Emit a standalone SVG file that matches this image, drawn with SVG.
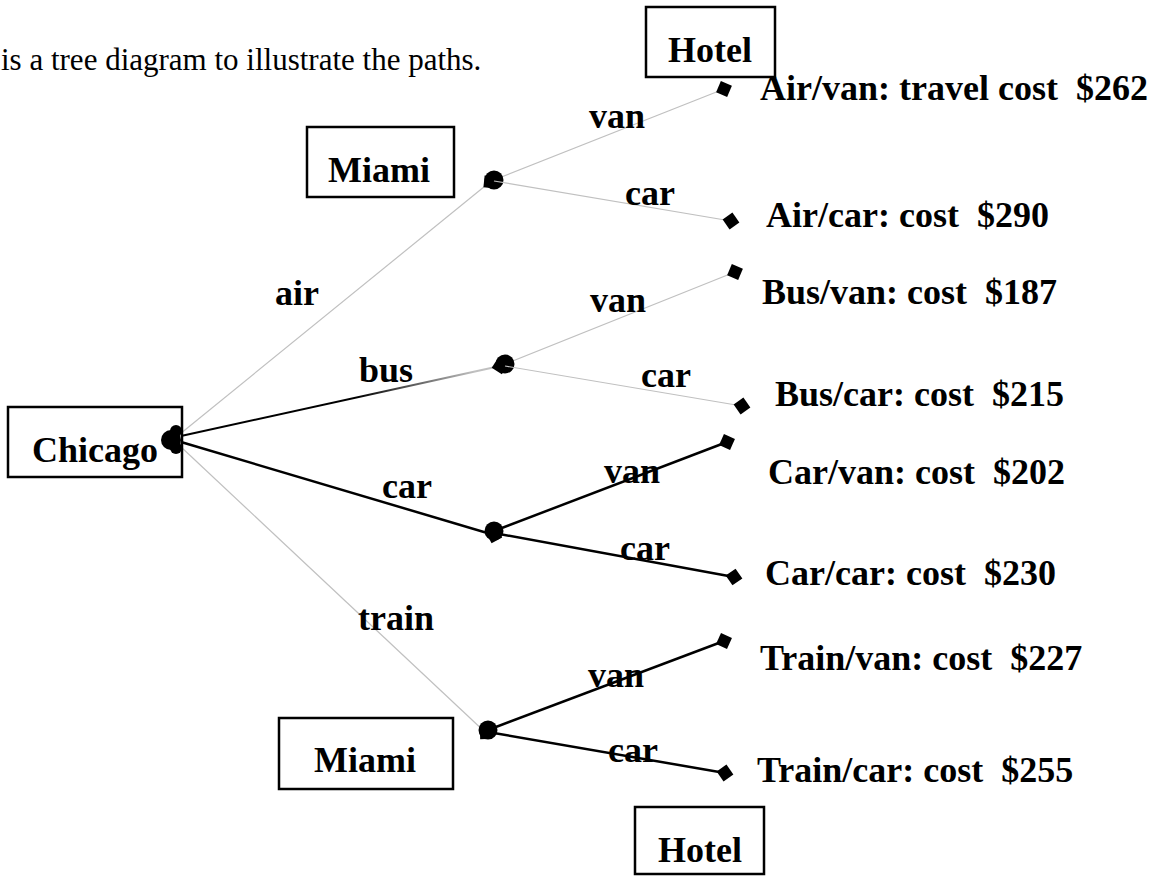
<svg xmlns="http://www.w3.org/2000/svg" width="1169" height="876" viewBox="0 0 1169 876">
<style>
.lbl{font-family:"Liberation Serif","Times New Roman",serif;font-weight:bold;font-size:36px;fill:#000;white-space:pre}
.intro{font-family:"Liberation Serif","Times New Roman",serif;font-size:31px;fill:#000}
.box{fill:none;stroke:#000;stroke-width:2.5}
.g{fill:none;stroke:#c0c0c0;stroke-width:1.2}
.b{fill:none;stroke:#000;stroke-width:2.5}
.blob{fill:#000}
</style>
<defs>
<marker id="dia" markerUnits="userSpaceOnUse" orient="auto" overflow="visible" markerWidth="1" markerHeight="1" refX="0" refY="0">
<path d="M-8.5,0 L0,-8.5 L8.5,0 L0,8.5 Z" fill="#000"/>
</marker>
<marker id="dot" markerUnits="userSpaceOnUse" overflow="visible" markerWidth="1" markerHeight="1" refX="0" refY="0">
<circle cx="0" cy="0" r="9.5" fill="#000"/>
</marker>
<linearGradient id="busg" gradientUnits="userSpaceOnUse" x1="181" y1="436" x2="500" y2="366">
<stop offset="0" stop-color="#000"/>
<stop offset="0.55" stop-color="#000"/>
<stop offset="0.92" stop-color="#c0c0c0"/>
<stop offset="1" stop-color="#c0c0c0"/>
</linearGradient>
</defs>
<rect width="1169" height="876" fill="#fff"/>
<text class="intro" x="1" y="70">is a tree diagram to illustrate the paths.</text>

<g id="connectors">
<line class="g" x1="180" y1="434" x2="490" y2="182" marker-end="url(#dia)"/>
<line x1="181" y1="436" x2="500" y2="366" stroke="url(#busg)" stroke-width="2" marker-end="url(#dia)"/>
<line class="b" x1="181" y1="442" x2="494" y2="535" marker-end="url(#dia)"/>
<line class="g" x1="180" y1="446" x2="486" y2="733" marker-end="url(#dia)"/>
<line class="g" x1="494" y1="180" x2="724" y2="89" marker-start="url(#dot)" marker-end="url(#dia)"/>
<line class="g" x1="494" y1="181" x2="731" y2="221" marker-end="url(#dia)"/>
<line class="g" x1="505" y1="364" x2="735" y2="272" marker-start="url(#dot)" marker-end="url(#dia)"/>
<line class="g" x1="505" y1="366" x2="742" y2="406" marker-end="url(#dia)"/>
<line class="b" x1="494" y1="531" x2="727" y2="442" marker-start="url(#dot)" marker-end="url(#dia)"/>
<line class="b" x1="494" y1="533" x2="734" y2="577" marker-end="url(#dia)"/>
<line class="b" x1="488" y1="730" x2="724" y2="641" marker-start="url(#dot)" marker-end="url(#dia)"/>
<line class="b" x1="488" y1="732" x2="725" y2="773" marker-end="url(#dia)"/>
</g>

<g id="edge-labels">
<text class="lbl" x="275" y="305">air</text>
<text class="lbl" x="359" y="382">bus</text>
<text class="lbl" x="382" y="498">car</text>
<text class="lbl" x="358" y="630">train</text>
<text class="lbl" x="589" y="128">van</text>
<text class="lbl" x="625" y="205">car</text>
<text class="lbl" x="590" y="312">van</text>
<text class="lbl" x="641" y="387">car</text>
<text class="lbl" x="604" y="483">van</text>
<text class="lbl" x="620" y="560">car</text>
<text class="lbl" x="588" y="687">van</text>
<text class="lbl" x="608" y="762">car</text>
</g>

<g id="chicago">
<rect class="box" x="8" y="407" width="174" height="70"/>
<text class="lbl" x="32" y="462">Chicago</text>
<circle class="blob" cx="171" cy="440" r="10"/>
<circle class="blob" cx="176" cy="431" r="6"/>
<circle class="blob" cx="176" cy="448" r="6"/>
</g>
<g id="miami-top">
<rect class="box" x="307" y="127" width="147" height="70"/>
<text class="lbl" x="328" y="182">Miami</text>
</g>
<g id="miami-bottom">
<rect class="box" x="279" y="718" width="174" height="71"/>
<text class="lbl" x="314" y="772">Miami</text>
</g>
<g id="hotel-top">
<rect class="box" x="646" y="7" width="129" height="70"/>
<text class="lbl" x="668" y="62">Hotel</text>
</g>
<g id="hotel-bottom">
<rect class="box" x="635" y="807" width="129" height="67"/>
<text class="lbl" x="658" y="862">Hotel</text>
</g>

<g id="leaf-air-van"><text class="lbl" x="760" y="100">Air/van: travel cost  $262</text></g>
<g id="leaf-air-car"><text class="lbl" x="766" y="227">Air/car: cost  $290</text></g>
<g id="leaf-bus-van"><text class="lbl" x="762" y="304">Bus/van: cost  $187</text></g>
<g id="leaf-bus-car"><text class="lbl" x="775" y="406">Bus/car: cost  $215</text></g>
<g id="leaf-car-van"><text class="lbl" x="768" y="484">Car/van: cost  $202</text></g>
<g id="leaf-car-car"><text class="lbl" x="765" y="585">Car/car: cost  $230</text></g>
<g id="leaf-train-van"><text class="lbl" x="760" y="670">Train/van: cost  $227</text></g>
<g id="leaf-train-car"><text class="lbl" x="757" y="782">Train/car: cost  $255</text></g>
</svg>
